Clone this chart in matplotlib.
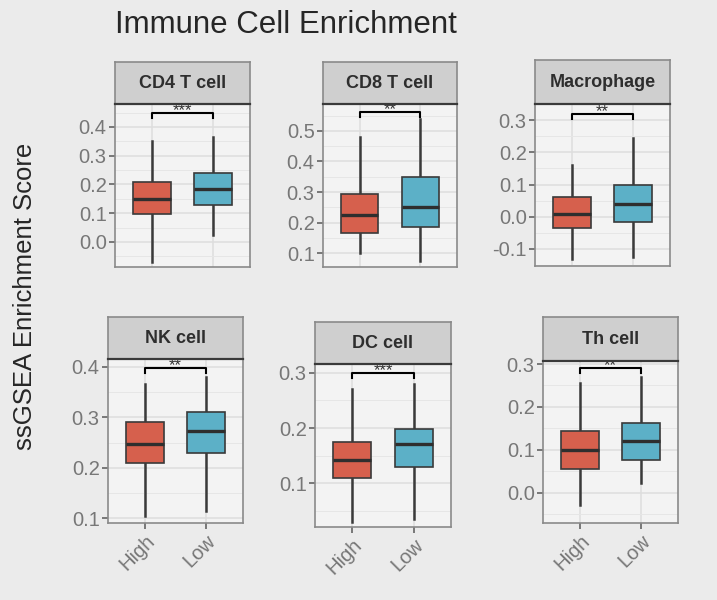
"""Immune cell enrichment boxplots (High vs Low), ggplot-like facets."""

import matplotlib
matplotlib.use('Agg')
import matplotlib.pyplot as plt
from matplotlib.ticker import MultipleLocator

plt.rcParams['font.family'] = ['Liberation Sans', 'DejaVu Sans']

# data
cells = ['CD4 T cell', 'CD8 T cell', 'Macrophage', 'NK cell', 'DC cell', 'Th cell']
groups = ['High', 'Low']
signif = ['***', '**', '**', '**', '***', '**']

high_lo = [-0.07, 0.10, -0.13, 0.105, 0.030, -0.030]
high_q1 = [0.097, 0.165, -0.035, 0.210, 0.110, 0.055]
high_med = [0.150, 0.225, 0.010, 0.248, 0.142, 0.100]
high_q3 = [0.210, 0.295, 0.060, 0.290, 0.175, 0.143]
high_hi = [0.350, 0.480, 0.160, 0.365, 0.270, 0.255]

low_lo = [0.025, 0.075, -0.125, 0.115, 0.035, 0.022]
low_q1 = [0.130, 0.185, -0.015, 0.230, 0.130, 0.075]
low_med = [0.185, 0.250, 0.040, 0.272, 0.172, 0.120]
low_q3 = [0.240, 0.350, 0.100, 0.310, 0.198, 0.162]
low_hi = [0.365, 0.540, 0.245, 0.380, 0.280, 0.270]

bracket_y = [0.449, 0.561, 0.320, 0.397, 0.300, 0.290]

# layout (pixels: left, right, strip top, panel top, panel bottom)
W, H = 717, 600
panel_px = [
    (115, 250, 62, 104, 267),
    (323, 457, 62, 104, 267),
    (535, 670, 60, 104, 266),
    (108, 243, 317, 359, 523),
    (315, 451, 322, 364, 527),
    (543, 678, 317, 361, 523),
]
ylims = [(-0.087, 0.48), (0.055, 0.588), (-0.153, 0.35),
         (0.091, 0.415), (0.021, 0.316), (-0.071, 0.307)]

fig_bg = '#ebebeb'
panel_bg = '#f3f3f3'
grid_col = '#dedede'
tick_col = '#777777'
box_cols = ['#d6604d', '#5cb0c7']

fig = plt.figure(figsize=(W / 100, H / 100), dpi=100, facecolor=fig_bg)


def px_axes(x0, x1, y0, y1):
    return fig.add_axes([x0 / W, 1 - y1 / H, (x1 - x0) / W, (y1 - y0) / H])


for i, cell in enumerate(cells):
    x0, x1, st, pt, pb = panel_px[i]
    ax = px_axes(x0, x1, pt, pb)
    ax.set_facecolor(panel_bg)

    stats = [
        dict(whislo=high_lo[i], q1=high_q1[i], med=high_med[i], q3=high_q3[i],
             whishi=high_hi[i], fliers=[]),
        dict(whislo=low_lo[i], q1=low_q1[i], med=low_med[i], q3=low_q3[i],
             whishi=low_hi[i], fliers=[]),
    ]
    bp = ax.bxp(stats, positions=[1, 2], widths=0.62, patch_artist=True,
                showcaps=False, showfliers=False,
                boxprops=dict(edgecolor='#3a3a3a', linewidth=1.2),
                medianprops=dict(color='#2e2e2e', linewidth=2.4),
                whiskerprops=dict(color='#3a3a3a', linewidth=1.8))
    for patch, c in zip(bp['boxes'], box_cols):
        patch.set_facecolor(c)
        patch.set_zorder(3)
    for m in bp['medians']:
        m.set_zorder(4)

    # significance bracket, stars partly hidden under the strip
    by = bracket_y[i]
    arm = (ylims[i][1] - ylims[i][0]) * 0.03
    ax.plot([1, 1, 2, 2], [by - arm, by, by, by - arm], color='black', lw=1.5,
            zorder=5, clip_on=False)
    ax.annotate(signif[i], (1.5, by), xytext=(0, -1.5), textcoords='offset points',
                ha='center', va='baseline', fontsize=12, color='#333333',
                zorder=5, annotation_clip=False, clip_on=True)

    ax.set_xlim(0.4, 2.6)
    ax.set_ylim(*ylims[i])
    ax.yaxis.set_major_locator(MultipleLocator(0.1))
    ax.yaxis.set_minor_locator(MultipleLocator(0.05))
    ax.yaxis.set_major_formatter(plt.FuncFormatter(lambda v, p: f'{v:.1f}'))
    ax.grid(True, which='major', color=grid_col, lw=1.1)
    ax.grid(True, which='minor', axis='y', color='#e6e6e6', lw=0.7)
    ax.set_axisbelow(True)
    ax.set_xticks([1, 2])
    ax.tick_params(axis='y', which='minor', length=0)
    ax.tick_params(axis='both', which='major', colors=tick_col, labelsize=14.5,
                   length=4, width=1.4, labelcolor=tick_col, pad=2)
    if i < 3:
        ax.tick_params(axis='x', length=0, labelbottom=False)
    else:
        ax.set_xticklabels(groups, rotation=45, ha='right', va='top',
                           rotation_mode='anchor')
    for s in ax.spines.values():
        s.set_color('#8a8a8a')
        s.set_linewidth(1.2)

    # facet strip
    sax = px_axes(x0, x1, st, pt)
    sax.set_facecolor('#cfcfcf')
    sax.set_xticks([])
    sax.set_yticks([])
    for s in sax.spines.values():
        s.set_color('#8a8a8a')
        s.set_linewidth(1.2)
    sax.spines['bottom'].set_color('#3a3a3a')
    sax.spines['bottom'].set_linewidth(1.6)
    sax.text(0.5, 0.48, cell, ha='center', va='center', fontsize=13,
             fontweight='bold', color='#2e2e2e', transform=sax.transAxes)

fig.text(115 / W, 1 - 25 / H, 'Immune Cell Enrichment', ha='left', va='center',
         fontsize=22.5, color='#262626')
fig.text(25 / W, 1 - 296 / H, 'ssGSEA Enrichment Score', ha='center',
         va='center', rotation=90, fontsize=18.5, color='#262626')

fig.savefig('out.png', dpi=100, facecolor=fig_bg)
